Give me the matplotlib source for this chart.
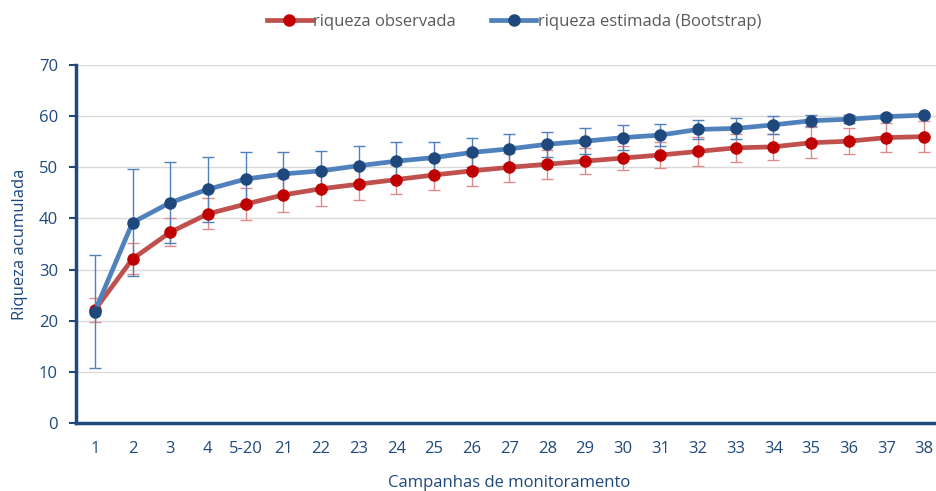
import numpy as np
import matplotlib.pyplot as plt

plt.rcParams['font.family'] = ['Open Sans', 'DejaVu Sans']

campanhas = ['1', '2', '3', '4', '5-20', '21', '22', '23', '24', '25', '26', '27',
             '28', '29', '30', '31', '32', '33', '34', '35', '36', '37', '38']
observada = [22.1, 32.1, 37.3, 40.9, 42.8, 44.6, 45.8, 46.7, 47.6, 48.5, 49.3, 50.0,
             50.6, 51.2, 51.8, 52.4, 53.1, 53.8, 54.0, 54.8, 55.1, 55.8, 56.0]
observada_err = [2.4, 3.0, 2.7, 3.0, 3.1, 3.3, 3.3, 3.1, 2.9, 2.9, 3.0, 2.8,
                 2.8, 2.5, 2.4, 2.6, 2.8, 2.8, 2.6, 3.0, 2.5, 2.9, 3.1]
estimada = [21.8, 39.2, 43.1, 45.7, 47.7, 48.7, 49.3, 50.3, 51.2, 51.9, 52.9, 53.6,
            54.5, 55.1, 55.8, 56.3, 57.4, 57.6, 58.3, 59.1, 59.4, 59.9, 60.2]
estimada_err = [11.0, 10.5, 8.0, 6.3, 5.3, 4.3, 3.8, 3.9, 3.7, 3.0, 2.8, 2.9,
                2.4, 2.5, 2.4, 2.2, 1.8, 2.1, 1.8, 1.1, 0.8, 0.5, 0.3]

navy = '#1f497d'
x = np.arange(len(campanhas))

fig = plt.figure(figsize=(9.37, 4.91), dpi=100)
ax = fig.add_axes([0.0811, 0.1385, 0.9253, 0.7291])

# error bars first (thin), then lines and markers on top
ax.errorbar(x, observada, yerr=observada_err, fmt='none', ecolor='#e08a8a',
            elinewidth=1.0, capsize=4, capthick=1.0, zorder=2)
ax.errorbar(x, estimada, yerr=estimada_err, fmt='none', ecolor='#4f81bd',
            elinewidth=1.0, capsize=4, capthick=1.0, zorder=2)

ax.plot(x, observada, color='#c0504d', lw=3.4, marker='o', ms=8,
        mfc='#c00000', mec='#c00000', label='riqueza observada', zorder=3)
ax.plot(x, estimada, color='#4f81bd', lw=3.4, marker='o', ms=8,
        mfc=navy, mec=navy, label='riqueza estimada (Bootstrap)', zorder=4)

ax.set_xlim(-0.5, len(campanhas) - 0.5)
ax.set_ylim(0, 70)
ax.set_yticks(range(0, 71, 10))
ax.set_xticks(x)
ax.set_xticklabels(campanhas)
ax.yaxis.grid(True, color='#d9d9d9', lw=1.0)
ax.set_axisbelow(True)

for s in ['top', 'right']:
    ax.spines[s].set_visible(False)
ax.spines['left'].set_color(navy)
ax.spines['left'].set_linewidth(2.5)
ax.spines['bottom'].set_color(navy)
ax.spines['bottom'].set_linewidth(2.5)
ax.tick_params(axis='y', colors=navy, length=5, width=1.5, labelsize=12, pad=8)
ax.tick_params(axis='x', colors=navy, length=0, labelsize=12, pad=13)

ax.set_ylabel('Riqueza acumulada', color=navy, fontsize=12, labelpad=8)
ax.set_xlabel('Campanhas de monitoramento', color=navy, fontsize=12)
ax.xaxis.set_label_coords(0.5, -0.145)

ax.legend(loc='center', bbox_to_anchor=(0.505, 1.12), ncol=2, frameon=False,
          fontsize=12, labelcolor='#595959', handlelength=2.7, handletextpad=0.1,
          columnspacing=2.1)

fig.savefig('out.png', dpi=100)
